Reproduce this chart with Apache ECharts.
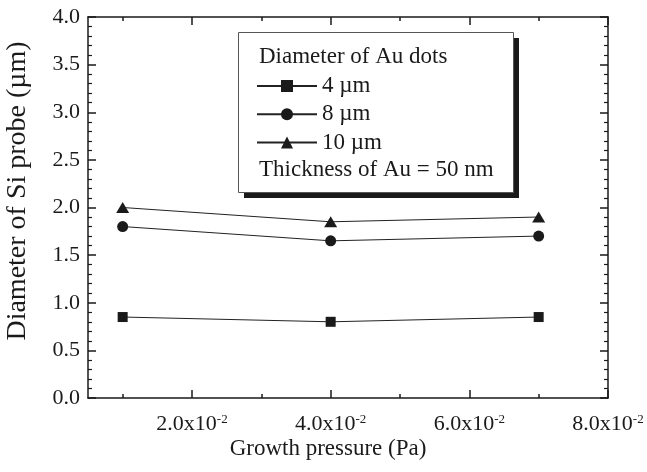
<!DOCTYPE html>
<html>
<head>
<meta charset="utf-8">
<style>html,body{margin:0;padding:0;background:#fff;}#c{width:647px;height:472px;}</style>
<script src="https://cdn.jsdelivr.net/npm/echarts@6/dist/echarts.min.js"></script>
</head>
<body>
<div id="c"></div>
<script>
var pressure = [0.01, 0.04, 0.07];
var dots4 = [0.85, 0.80, 0.85];
var dots8 = [1.80, 1.65, 1.70];
var dots10 = [2.00, 1.85, 1.90];
var seriesNames = ['4 \u00b5m', '8 \u00b5m', '10 \u00b5m'];
var xMajorTicks = [0.02, 0.04, 0.06, 0.08];
var xMinorTicks = [0.01, 0.03, 0.05, 0.07];
var xTickLabels = {'0.02': '2.0x10', '0.04': '4.0x10', '0.06': '6.0x10', '0.08': '8.0x10'};
var xExponent = '-2';
var xTitle = 'Growth pressure (Pa)';
var yTitle = 'Diameter of Si probe (\u00b5m)';
var legendTitle = 'Diameter of Au dots';
var legendNote = 'Thickness of Au = 50 nm';

var FONT = "'Liberation Serif','Times New Roman',serif";
var INK = '#1a1a1a';

function pairs(ys) { return pressure.map(function (x, i) { return [x, ys[i]]; }); }

function xAxisDef(pos, ticks, len, showLine, showLabel) {
  return {
    type: 'value', position: pos, min: 0.005, max: 0.08,
    axisLine: { show: showLine, onZero: false, lineStyle: { color: INK, width: 1.5 } },
    axisTick: { show: true, inside: true, length: len, customValues: ticks, lineStyle: { color: INK, width: 1.5 } },
    axisLabel: showLabel ? {
      show: true, customValues: xMajorTicks, margin: 15, fontFamily: FONT, color: INK,
      formatter: function (v) { var k = (Math.round(v * 100) / 100).toFixed(2); return '{a|' + xTickLabels[k] + '}{b|' + xExponent + '}'; },
      rich: { a: { fontSize: 22, fontFamily: FONT, color: INK }, b: { fontSize: 13, fontFamily: FONT, color: INK, verticalAlign: 'top' } }
    } : { show: false },
    splitLine: { show: false }
  };
}
function yAxisDef(pos, showLabel) {
  return {
    type: 'value', position: pos, min: 0, max: 4, interval: 0.5,
    axisLine: { show: true, onZero: false, lineStyle: { color: INK, width: 1.5 } },
    axisTick: { show: true, inside: true, length: 8, lineStyle: { color: INK, width: 1.5 } },
    minorTick: { show: true, splitNumber: 5, length: 4, lineStyle: { color: INK, width: 1.2 } },
    axisLabel: showLabel ? { show: true, margin: 8, fontSize: 22, fontFamily: FONT, color: INK, formatter: function (v) { return v.toFixed(1); } } : { show: false },
    splitLine: { show: false }, minorSplitLine: { show: false }
  };
}

var symbols = ['rect', 'circle', 'triangle'];
var sizes = [10, 11, [13, 11]];
var datas = [dots4, dots8, dots10];

var chart = echarts.init(document.getElementById('c'), null, { renderer: 'canvas' });
chart.setOption({
  animation: false,
  backgroundColor: '#fff',
  grid: { left: 88, right: 39, top: 17, bottom: 74, containLabel: false },
  xAxis: [
    xAxisDef('bottom', xMajorTicks, 8, true, true),
    xAxisDef('bottom', xMinorTicks, 4, false, false),
    xAxisDef('top', xMajorTicks, 8, true, false),
    xAxisDef('top', xMinorTicks, 4, false, false)
  ],
  yAxis: [yAxisDef('left', true), yAxisDef('right', false)],
  legend: {
    orient: 'vertical', left: 251, top: 69.5, itemWidth: 60, itemHeight: 15, itemGap: 5.3,
    textStyle: { fontSize: 23, fontFamily: FONT, color: INK, lineHeight: 23 },
    data: seriesNames
  },
  graphic: [
    { type: 'rect', left: 244, top: 38, shape: { width: 275, height: 160 }, style: { fill: '#1a1a1a' }, z: 1 },
    { type: 'rect', left: 238, top: 32, shape: { width: 275, height: 160 }, style: { fill: '#fff', stroke: '#555', lineWidth: 1 }, z: 2 },
    { type: 'text', x: 259, y: 57, style: { text: legendTitle, font: '23px ' + FONT, fill: INK, textVerticalAlign: 'middle' }, z: 3 },
    { type: 'text', x: 259, y: 170, style: { text: legendNote, font: '23px ' + FONT, fill: INK, textVerticalAlign: 'middle' }, z: 3 },
    { type: 'text', x: 328, y: 449, style: { text: xTitle, font: '23px ' + FONT, fill: INK, textAlign: 'center', textVerticalAlign: 'middle' }, z: 3 },
    { type: 'text', x: 18, y: 191, rotation: Math.PI / 2, style: { text: yTitle, font: '28px ' + FONT, fill: INK, textAlign: 'center', textVerticalAlign: 'middle' }, z: 3 }
  ],
  series: datas.map(function (d, i) {
    return {
      name: seriesNames[i], type: 'line', xAxisIndex: 0, yAxisIndex: 0,
      data: pairs(d), symbol: symbols[i], symbolSize: sizes[i], showSymbol: true,
      lineStyle: { color: '#222', width: 1 },
      itemStyle: { color: INK, borderWidth: 0 },
      z: 5
    };
  })
});
</script>
</body>
</html>
